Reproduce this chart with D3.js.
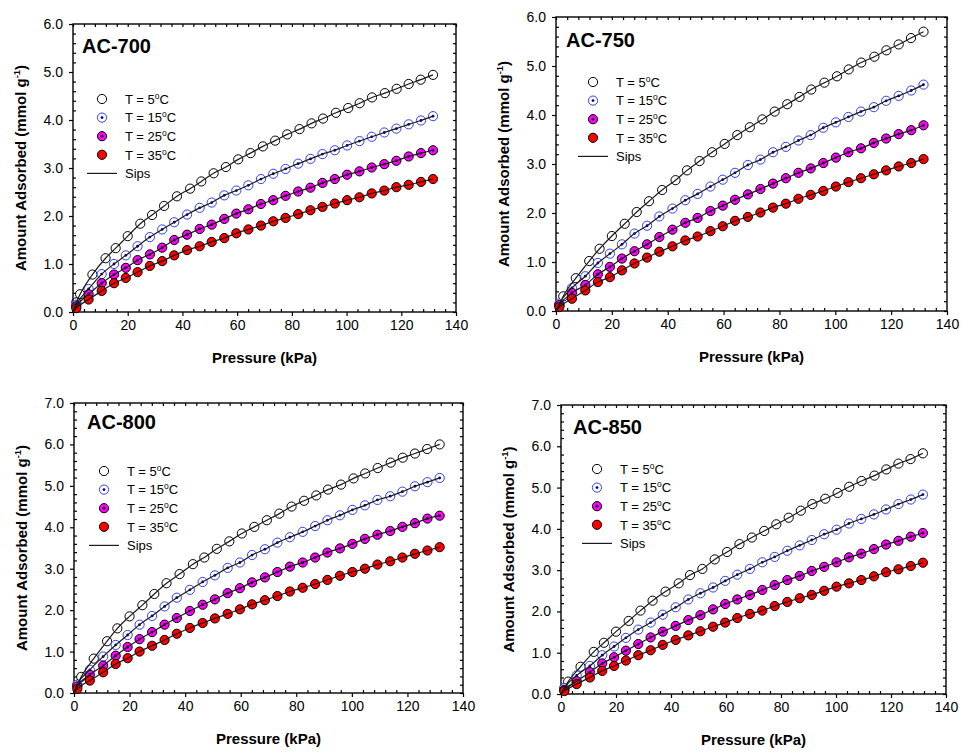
<!DOCTYPE html>
<html>
<head>
<meta charset="utf-8">
<script src="https://cdn.jsdelivr.net/npm/d3@7"></script>
<style>
  body { margin: 0; background: #fff; }
  text { font-family: "Liberation Sans", Arial, sans-serif; fill: #000; }
</style>
</head>
<body>
<div id="app"></div>
<script>
// pressures (kPa) of the measured points
const pressure5 = [1.2, 2.6, 7.1, 11.9, 15.6, 20, 24.6, 28.9, 33.3, 38, 42.8, 46.9, 51.4, 55.9, 60.4, 64.9, 69.4, 73.9, 78.3, 82.8, 87.2, 91.4, 96.1, 100.6, 104.8, 109.3, 114, 118.3, 122.7, 127.1, 131.6];
const pressure = [1.2, 5.7, 10.5, 15, 19.3, 23.6, 28.1, 32.6, 37, 41.7, 46.3, 50.7, 55.3, 59.7, 64.1, 68.7, 73.2, 77.7, 82.3, 86.8, 91.2, 95.7, 100.2, 104.7, 109.2, 113.8, 118.2, 122.7, 127.2, 131.6];

const temps = ['5', '15', '25', '35'];
const xTicks = [0, 20, 40, 60, 80, 100, 120, 140];

// amount adsorbed (mmol/g)
const ac700_5 = [0.2, 0.37, 0.78, 1.12, 1.33, 1.58, 1.84, 2.02, 2.21, 2.41, 2.57, 2.72, 2.89, 3.02, 3.18, 3.31, 3.45, 3.57, 3.70, 3.81, 3.93, 4.03, 4.15, 4.25, 4.35, 4.47, 4.56, 4.65, 4.75, 4.84, 4.94];
const ac700_15 = [0.15, 0.48, 0.79, 1.0, 1.18, 1.37, 1.56, 1.72, 1.87, 2.03, 2.17, 2.28, 2.43, 2.53, 2.64, 2.77, 2.88, 2.98, 3.09, 3.19, 3.29, 3.37, 3.47, 3.56, 3.65, 3.74, 3.82, 3.91, 3.99, 4.08];
const ac700_25 = [0.12, 0.37, 0.6, 0.78, 0.92, 1.08, 1.2, 1.34, 1.5, 1.61, 1.73, 1.82, 1.94, 2.05, 2.14, 2.25, 2.33, 2.42, 2.51, 2.59, 2.69, 2.77, 2.86, 2.93, 3.01, 3.08, 3.15, 3.24, 3.31, 3.37];
const ac700_35 = [0.08, 0.26, 0.44, 0.6, 0.71, 0.83, 0.96, 1.06, 1.18, 1.29, 1.37, 1.46, 1.54, 1.64, 1.72, 1.8, 1.89, 1.96, 2.04, 2.12, 2.19, 2.26, 2.33, 2.39, 2.47, 2.53, 2.6, 2.65, 2.71, 2.77];

const ac750_5 = [0.12, 0.3, 0.67, 1.02, 1.27, 1.53, 1.78, 2.02, 2.24, 2.47, 2.67, 2.87, 3.06, 3.24, 3.41, 3.59, 3.75, 3.91, 4.07, 4.22, 4.37, 4.52, 4.66, 4.79, 4.93, 5.07, 5.19, 5.32, 5.44, 5.57, 5.7];
const ac750_15 = [0.15, 0.47, 0.71, 0.98, 1.17, 1.36, 1.58, 1.74, 1.93, 2.09, 2.26, 2.39, 2.54, 2.68, 2.82, 2.98, 3.09, 3.24, 3.35, 3.48, 3.59, 3.74, 3.85, 3.96, 4.07, 4.16, 4.29, 4.39, 4.5, 4.62];
const ac750_25 = [0.12, 0.37, 0.53, 0.75, 0.9, 1.07, 1.22, 1.36, 1.51, 1.66, 1.8, 1.9, 2.04, 2.15, 2.27, 2.38, 2.49, 2.6, 2.71, 2.82, 2.91, 3.02, 3.13, 3.24, 3.32, 3.43, 3.52, 3.61, 3.69, 3.79];
const ac750_35 = [0.08, 0.25, 0.42, 0.59, 0.69, 0.83, 0.97, 1.09, 1.21, 1.32, 1.44, 1.52, 1.63, 1.73, 1.84, 1.92, 2.01, 2.11, 2.19, 2.29, 2.37, 2.45, 2.54, 2.63, 2.71, 2.79, 2.87, 2.95, 3.02, 3.1];

const ac800_5 = [0.2, 0.39, 0.83, 1.25, 1.56, 1.85, 2.12, 2.39, 2.65, 2.87, 3.11, 3.27, 3.48, 3.66, 3.85, 4.01, 4.17, 4.33, 4.5, 4.64, 4.77, 4.91, 5.03, 5.18, 5.3, 5.43, 5.56, 5.68, 5.78, 5.89, 6.0];
const ac800_15 = [0.2, 0.56, 0.88, 1.16, 1.4, 1.65, 1.86, 2.09, 2.3, 2.49, 2.68, 2.84, 3.02, 3.15, 3.33, 3.47, 3.63, 3.76, 3.89, 4.03, 4.17, 4.29, 4.42, 4.53, 4.66, 4.75, 4.86, 4.99, 5.09, 5.19];
const ac800_25 = [0.16, 0.44, 0.66, 0.9, 1.11, 1.3, 1.47, 1.65, 1.81, 1.98, 2.13, 2.26, 2.41, 2.53, 2.67, 2.79, 2.92, 3.05, 3.15, 3.27, 3.39, 3.49, 3.6, 3.72, 3.82, 3.91, 4.01, 4.1, 4.21, 4.28];
const ac800_35 = [0.1, 0.3, 0.5, 0.7, 0.84, 1.0, 1.14, 1.28, 1.43, 1.57, 1.69, 1.8, 1.91, 2.02, 2.14, 2.24, 2.34, 2.45, 2.54, 2.63, 2.73, 2.83, 2.92, 3.0, 3.1, 3.18, 3.27, 3.36, 3.44, 3.52];

const ac850_5 = [0.14, 0.3, 0.66, 1.02, 1.24, 1.51, 1.77, 2.02, 2.26, 2.48, 2.68, 2.88, 3.03, 3.26, 3.44, 3.63, 3.79, 3.95, 4.11, 4.27, 4.44, 4.6, 4.73, 4.87, 5.02, 5.16, 5.29, 5.44, 5.58, 5.69, 5.83];
const ac850_15 = [0.14, 0.45, 0.68, 0.94, 1.15, 1.36, 1.56, 1.73, 1.92, 2.1, 2.29, 2.44, 2.58, 2.74, 2.89, 3.03, 3.19, 3.32, 3.47, 3.6, 3.73, 3.87, 3.98, 4.13, 4.24, 4.35, 4.47, 4.6, 4.71, 4.83];
const ac850_25 = [0.1, 0.31, 0.53, 0.74, 0.89, 1.05, 1.21, 1.37, 1.51, 1.65, 1.79, 1.91, 2.05, 2.18, 2.29, 2.4, 2.52, 2.64, 2.76, 2.86, 2.98, 3.08, 3.19, 3.31, 3.4, 3.51, 3.62, 3.71, 3.81, 3.9];
const ac850_35 = [0.07, 0.24, 0.4, 0.56, 0.68, 0.81, 0.94, 1.06, 1.19, 1.31, 1.42, 1.52, 1.63, 1.73, 1.84, 1.94, 2.02, 2.13, 2.23, 2.32, 2.4, 2.5, 2.6, 2.68, 2.76, 2.85, 2.95, 3.02, 3.1, 3.18];

const samples = ['AC-700', 'AC-750', 'AC-800', 'AC-850'];
const yMaxes = [6, 6, 7, 7];
const sampleSeries = [
  [ac700_5, ac700_15, ac700_25, ac700_35],
  [ac750_5, ac750_15, ac750_25, ac750_35],
  [ac800_5, ac800_15, ac800_25, ac800_35],
  [ac850_5, ac850_15, ac850_25, ac850_35]
];

// panel frames and legend placement (px)
const frames = [
  { left: 73, top: 24, w: 383, h: 288, lab: [9, 29], leg: [29, 75] },
  { left: 556, top: 17, w: 391, h: 294, lab: [10, 30], leg: [37, 65] },
  { left: 74, top: 403, w: 389, h: 290, lab: [13, 26], leg: [30, 68] },
  { left: 561, top: 405, w: 385, h: 289, lab: [12, 29], leg: [36, 64] }
];

const markerStyle = [
  { fill: 'none', stroke: '#000', dot: null },
  { fill: '#fff', stroke: '#2f3cff', dot: '#000070' },
  { fill: '#ff00ff', stroke: '#000', dot: '#000' },
  { fill: '#ff0000', stroke: '#000', dot: null }
];

const width = 961, height = 752;
const r = 4.6;

const svg = d3.select('#app').append('svg')
  .attr('width', width).attr('height', height)
  .attr('viewBox', [0, 0, width, height]);

function marker(sel, s) {
  sel.append('circle').attr('r', r)
    .attr('fill', s.fill).attr('stroke', s.stroke).attr('stroke-width', 1);
  if (s.dot) sel.append('circle').attr('r', 1.4).attr('fill', s.dot);
}

samples.forEach((name, pi) => {
  const f = frames[pi];
  const yMax = yMaxes[pi];
  const g = svg.append('g').attr('transform', `translate(${f.left},${f.top})`);

  const x = d3.scaleLinear().domain([0, 140]).range([0, f.w]);
  const y = d3.scaleLinear().domain([0, yMax]).range([f.h, 0]);

  const xMinor = d3.range(0, 141, 4).filter((v) => v % 20 !== 0);
  const yAll = d3.range(0, yMax * 5 + 1).map((v) => v / 5);
  const yMinor = yAll.filter((v) => Math.abs(v - Math.round(v)) > 1e-6);

  // bottom axis: majors out, minors in
  g.append('g').attr('transform', `translate(0,${f.h})`)
    .call(d3.axisBottom(x).tickValues(xTicks).tickSize(4).tickPadding(4).tickFormat(d3.format('d')));
  g.append('g').attr('transform', `translate(0,${f.h})`)
    .call(d3.axisBottom(x).tickValues(xMinor).tickSize(-3).tickFormat(''));
  // left axis
  g.append('g')
    .call(d3.axisLeft(y).tickValues(d3.range(0, yMax + 1)).tickSize(4).tickPadding(6).tickFormat(d3.format('.1f')));
  g.append('g')
    .call(d3.axisLeft(y).tickValues(yMinor).tickSize(-3).tickFormat(''));
  // top and right: all ticks pointing in
  g.append('g')
    .call(d3.axisTop(x).tickValues(d3.range(0, 141, 4)).tickSize(-3).tickFormat(''));
  g.append('g').attr('transform', `translate(${f.w},0)`)
    .call(d3.axisRight(y).tickValues(yAll).tickSize(-3).tickFormat(''));

  g.selectAll('.domain').remove();
  g.selectAll('.tick line').attr('stroke', '#000').attr('stroke-width', 1.2);
  g.selectAll('.tick text').style('font-size', '14px').attr('fill', '#000');

  g.append('rect').attr('width', f.w).attr('height', f.h)
    .attr('fill', 'none').attr('stroke', '#000').attr('stroke-width', 1.4);

  // data points
  const line = d3.line().curve(d3.curveMonotoneX)
    .x((d) => x(d[0])).y((d) => y(d[1]));

  sampleSeries[pi].forEach((vals, si) => {
    const px = si === 0 ? pressure5 : pressure;
    const pts = vals.map((v, i) => [px[i], v]);
    g.append('g').selectAll('g').data(pts).join('g')
      .attr('transform', (d) => `translate(${x(d[0])},${y(d[1])})`)
      .each(function () { marker(d3.select(this), markerStyle[si]); });
  });

  // Sips fit lines, starting at the origin
  sampleSeries[pi].forEach((vals, si) => {
    const px = si === 0 ? pressure5 : pressure;
    const pts = [[0, 0]].concat(vals.map((v, i) => [px[i], v]));
    g.append('path').datum(pts)
      .attr('d', line).attr('fill', 'none')
      .attr('stroke', '#1a1a1a').attr('stroke-width', 1.2);
  });

  // sample label
  g.append('text').attr('x', f.lab[0]).attr('y', f.lab[1])
    .style('font-size', '20px').style('font-weight', 'bold').text(name);

  // legend
  const lg = g.append('g').attr('transform', `translate(${f.leg[0]},${f.leg[1]})`);
  temps.forEach((t, i) => {
    const row = lg.append('g').attr('transform', `translate(0,${i * 18.6})`);
    marker(row.append('g'), markerStyle[i]);
    const tx = row.append('text').attr('x', 23).attr('y', 4.8).style('font-size', '13px');
    tx.append('tspan').text(`T = ${t}`);
    tx.append('tspan').attr('dy', -5).style('font-size', '8.5px').text('o');
    tx.append('tspan').attr('dy', 5).text('C');
  });
  const sipsRow = lg.append('g').attr('transform', `translate(0,${4 * 18.6})`);
  sipsRow.append('line').attr('x1', -15).attr('x2', 15)
    .attr('stroke', '#1a1a1a').attr('stroke-width', 1.2);
  sipsRow.append('text').attr('x', 23).attr('y', 4.8).style('font-size', '13px').text('Sips');

  // axis titles
  g.append('text').attr('x', f.w / 2).attr('y', f.h + 51)
    .attr('text-anchor', 'middle').style('font-size', '15px').style('font-weight', 'bold')
    .text('Pressure (kPa)');
  const yt = g.append('text')
    .attr('transform', `translate(-47,${f.h / 2}) rotate(-90)`)
    .attr('text-anchor', 'middle').style('font-size', '15px').style('font-weight', 'bold');
  yt.append('tspan').text('Amount Adsorbed (mmol g');
  yt.append('tspan').attr('dy', -6).style('font-size', '9.5px').text('-1');
  yt.append('tspan').attr('dy', 6).text(')');
});
</script>
</body>
</html>
